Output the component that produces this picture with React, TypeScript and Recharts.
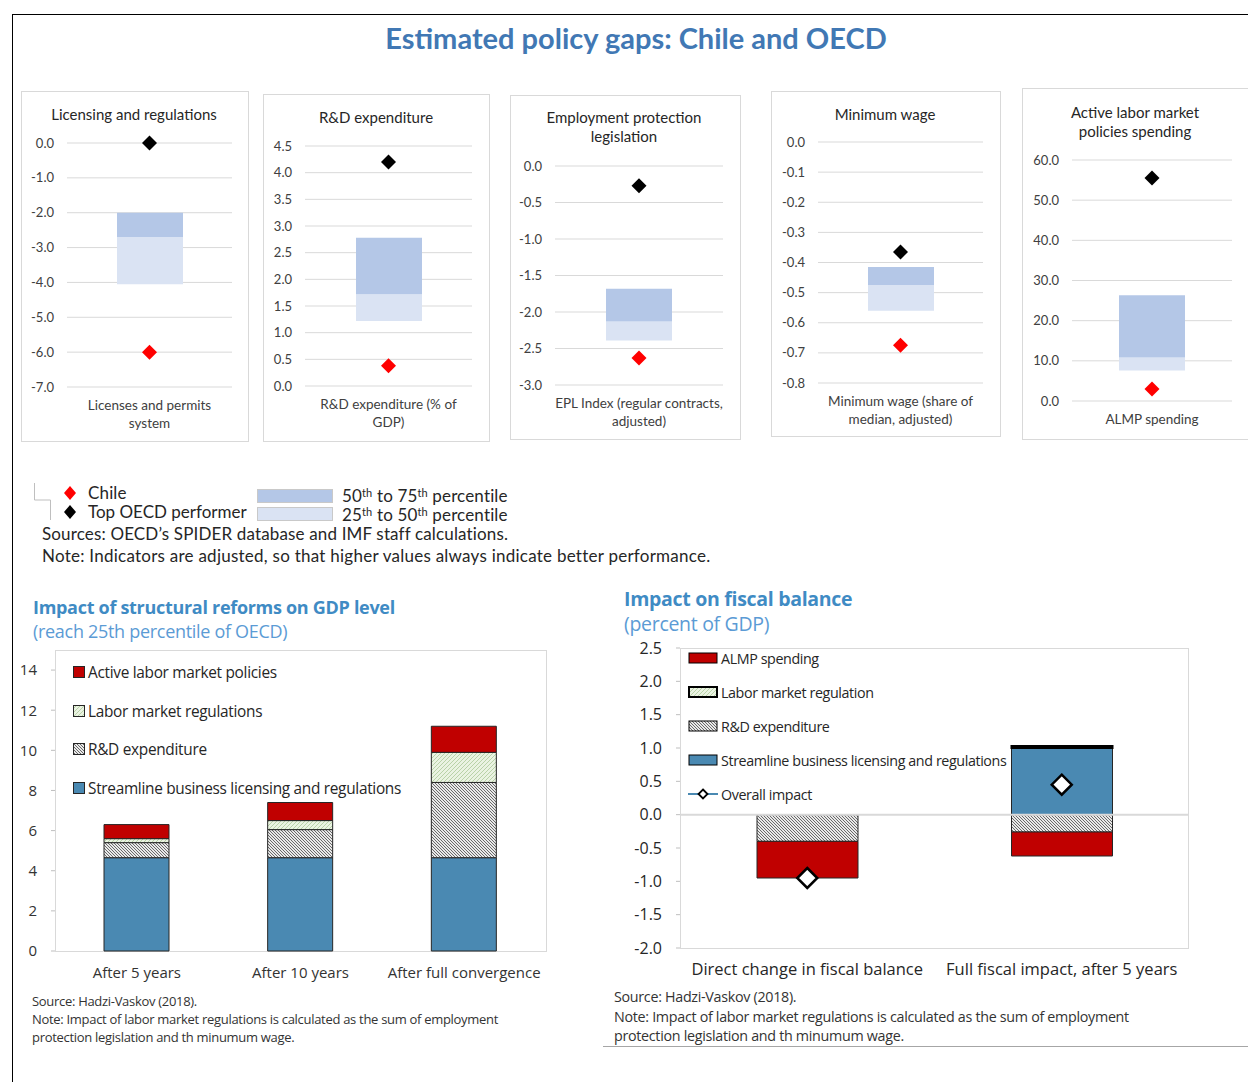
import React from "react";
import { ComposedChart, Bar, Line, XAxis, YAxis, CartesianGrid, ReferenceLine } from "recharts";

// ---------- top row: estimated policy gaps ----------
const panelTitles = [
  ["Licensing and regulations"],
  ["R&D expenditure"],
  ["Employment protection", "legislation"],
  ["Minimum wage"],
  ["Active labor market", "policies spending"],
];
const panelLabels = [
  ["Licenses and permits", "system"],
  ["R&D expenditure (% of", "GDP)"],
  ["EPL Index (regular contracts,", "adjusted)"],
  ["Minimum wage (share of", "median, adjusted)"],
  ["ALMP spending"],
];
const panelTicks = [
  [-7, -6, -5, -4, -3, -2, -1, 0],
  [0, 0.5, 1, 1.5, 2, 2.5, 3, 3.5, 4, 4.5],
  [-3, -2.5, -2, -1.5, -1, -0.5, 0],
  [-0.8, -0.7, -0.6, -0.5, -0.4, -0.3, -0.2, -0.1, 0],
  [0, 10, 20, 30, 40, 50, 60],
];
const pct25 = [-4.05, 1.22, -2.39, -0.56, 7.6];
const pct50 = [-2.7, 1.72, -2.13, -0.475, 10.8];
const pct75 = [-2.0, 2.78, -1.68, -0.415, 26.3];
const chileValues = [-6.0, 0.38, -2.63, -0.675, 3.0];
const topOecdValues = [0.0, 4.2, -0.27, -0.365, 55.5];

// ---------- bottom left: GDP level ----------
const gdpCategories = ["After 5 years", "After 10 years", "After full convergence"];
const gdpStreamline = [4.65, 4.65, 4.65];
const gdpRnd = [0.75, 1.4, 3.75];
const gdpLabor = [0.2, 0.45, 1.5];
const gdpAlmp = [0.7, 0.9, 1.3];
const gdpTicks = [0, 2, 4, 6, 8, 10, 12, 14];
const gdpLegend = [
  "Active labor market policies",
  "Labor market regulations",
  "R&D expenditure",
  "Streamline business licensing and regulations",
];

// ---------- bottom right: fiscal balance ----------
const fiscalCategories = ["Direct change in fiscal balance", "Full fiscal impact, after 5 years"];
const fiscalStreamline = [0, 1.0];
const fiscalLabor = [0, 0.03];
const fiscalRnd = [-0.4, -0.26];
const fiscalAlmp = [-0.55, -0.36];
const fiscalOverall = [-0.95, 0.45];
const fiscalTicks = [-2, -1.5, -1, -0.5, 0, 0.5, 1, 1.5, 2, 2.5];
const fiscalLegend = [
  "ALMP spending",
  "Labor market regulation",
  "R&D expenditure",
  "Streamline business licensing and regulations",
  "Overall impact",
];

// layout of the five small panels (page pixels)
const panelBoxes = [
  { x: 21, y: 91, w: 228, h: 351, left: 67, right: 232, top: 143, bottom: 387, titleY: 114, titleX: 134 },
  { x: 263, y: 94, w: 227, h: 348, left: 305, right: 472, top: 146, bottom: 386, titleY: 117, titleX: 376 },
  { x: 510, y: 95, w: 231, h: 345, left: 555, right: 723, top: 166, bottom: 385, titleY: 117, titleX: 624 },
  { x: 771, y: 91, w: 230, h: 346, left: 818, right: 983, top: 142, bottom: 383, titleY: 114, titleX: 885 },
  { x: 1022, y: 88, w: 240, h: 352, left: 1072, right: 1232, top: 160, bottom: 401, titleY: 112, titleX: 1135 },
];

const BLUE = "#4a89b2";
const RED = "#c00000";
const CAL = "Lato, 'Open Sans', sans-serif";
const SEG = "'Open Sans', 'Noto Sans', sans-serif";

const diamondDot = (fill: string, stroke: string, r: number, sw = 0) => (props: any) => {
  const { cx, cy, index } = props;
  if (cx == null || cy == null || isNaN(cy)) return <g key={index} />;
  return (
    <polygon
      key={index}
      points={`${cx},${cy - r} ${cx + r},${cy} ${cx},${cy + r} ${cx - r},${cy}`}
      fill={fill}
      stroke={stroke}
      strokeWidth={sw}
    />
  );
};

const panelTick = (lines: string[]) => (props: any) => {
  const { x, y } = props;
  return (
    <text x={x} y={y} textAnchor="middle" fontSize={13.5} fill="#404040" fontFamily={CAL}>
      {lines.map((l, k) => (
        <tspan key={k} x={x} y={y + 18 + k * 18} dy="0.35em">
          {l}
        </tspan>
      ))}
    </text>
  );
};

function GapPanel({ i }: { i: number }) {
  const b = panelBoxes[i];
  const ticks = panelTicks[i];
  const xAxisH = 40;
  const data = [
    {
      name: panelLabels[i].join(" "),
      low: [pct25[i], pct50[i]],
      high: [pct50[i], pct75[i]],
      chile: chileValues[i],
      top: topOecdValues[i],
    },
  ];
  return (
    <>
      <div
        style={{
          position: "absolute",
          left: b.x,
          top: b.y,
          width: b.w,
          height: b.h,
          border: "1px solid #d9d9d9",
          boxSizing: "border-box",
        }}
      />
      {panelTitles[i].map((t, k) => (
        <div
          key={k}
          style={{
            position: "absolute",
            left: b.titleX - 110,
            width: 220,
            top: b.titleY - 10 + k * 19,
            lineHeight: "20px",
            textAlign: "center",
            fontSize: 15,
            color: "#262626",
            fontFamily: CAL,
          }}
        >
          {t}
        </div>
      ))}
      <div style={{ position: "absolute", left: b.x, top: b.y }}>
        <ComposedChart
          width={b.w}
          height={b.h}
          data={data}
          margin={{ top: b.top - b.y, right: b.x + b.w - b.right, bottom: b.y + b.h - b.bottom - xAxisH, left: 0 }}
        >
          <CartesianGrid vertical={false} stroke="#d9d9d9" />
          <XAxis
            dataKey="name"
            height={xAxisH}
            axisLine={false}
            tickLine={false}
            tickSize={0}
            tickMargin={0}
            interval={0}
            tick={panelTick(panelLabels[i])}
          />
          <XAxis xAxisId="b" dataKey="name" hide />
          <YAxis
            domain={[ticks[0], ticks[ticks.length - 1]]}
            ticks={ticks}
            interval={0}
            width={b.left - b.x}
            axisLine={false}
            tickLine={false}
            tickSize={0}
            tickMargin={13}
            tickFormatter={(v: number) => v.toFixed(1)}
            tick={{ fontSize: 13, fill: "#404040", fontFamily: CAL }}
          />
          <Bar dataKey="low" fill="#dae3f3" barSize={66} isAnimationActive={false} />
          <Bar xAxisId="b" dataKey="high" fill="#b4c7e7" barSize={66} isAnimationActive={false} />
          <Line dataKey="top" stroke="none" dot={diamondDot("#000", "none", 7.5)} activeDot={false} isAnimationActive={false} />
          <Line dataKey="chile" stroke="none" dot={diamondDot("#ff0000", "none", 7.5)} activeDot={false} isAnimationActive={false} />
        </ComposedChart>
      </div>
    </>
  );
}

function Patterns() {
  return (
    <svg width={0} height={0} style={{ position: "absolute" }}>
      <defs>
        <pattern id="grayHatch" width={3} height={3} patternUnits="userSpaceOnUse">
          <rect width={3} height={3} fill="#e9e9e9" />
          <path d="M-1,-1 L4,4 M2,-1 L4,1 M-1,2 L1,4" stroke="#5a5a5a" strokeWidth={0.9} />
        </pattern>
        <pattern id="greenHatch" width={4} height={4} patternUnits="userSpaceOnUse">
          <rect width={4} height={4} fill="#eaf3e2" />
          <path d="M-1,5 L5,-1 M-1,1 L1,-1 M3,5 L5,3" stroke="#b9d2a8" strokeWidth={1} />
        </pattern>
      </defs>
    </svg>
  );
}

function GdpChart() {
  const data = gdpCategories.map((c, i) => ({
    name: c,
    streamline: gdpStreamline[i],
    rnd: gdpRnd[i],
    labor: gdpLabor[i],
    almp: gdpAlmp[i],
  }));
  const legendFills = [RED, "url(#greenHatch)", "url(#grayHatch)", BLUE];
  const legendY = [672, 711, 749, 788];
  return (
    <>
      <div style={{ position: "absolute", left: 33, top: 596, lineHeight: "22px", fontFamily: SEG, fontWeight: 700, fontSize: 18, color: "#3f8bc4", letterSpacing: -0.3 }}>
        Impact of structural reforms on GDP level
      </div>
      <div style={{ position: "absolute", left: 33, top: 620, lineHeight: "22px", fontFamily: SEG, fontSize: 18, color: "#5b9bd5", letterSpacing: -0.3 }}>
        (reach 25th percentile of OECD)
      </div>
      <div
        style={{
          position: "absolute",
          left: 55,
          top: 650,
          width: 492,
          height: 302,
          border: "1px solid #d9d9d9",
          boxSizing: "border-box",
        }}
      />
      <div style={{ position: "absolute", left: 10, top: 640 }}>
        <ComposedChart width={550} height={360} data={data} margin={{ top: 10, right: 14, bottom: 19, left: 0 }}>
          <XAxis
            dataKey="name"
            height={30}
            axisLine={false}
            tickLine={false}
            tickSize={0}
            tickMargin={16}
            interval={0}
            tick={{ fontSize: 15, fill: "#333", fontFamily: SEG }}
          />
          <YAxis
            domain={[0, 15]}
            ticks={gdpTicks}
            interval={0}
            width={45}
            axisLine={false}
            tickLine={{ stroke: "#bfbfbf" }}
            tickSize={4}
            tickMargin={14}
            tick={{ fontSize: 15, fill: "#333", fontFamily: SEG }}
          />
          <Bar stackId="s" dataKey="streamline" fill={BLUE} stroke="#262626" barSize={65} isAnimationActive={false} />
          <Bar stackId="s" dataKey="rnd" fill="url(#grayHatch)" stroke="#262626" barSize={65} isAnimationActive={false} />
          <Bar stackId="s" dataKey="labor" fill="url(#greenHatch)" stroke="#262626" barSize={65} isAnimationActive={false} />
          <Bar stackId="s" dataKey="almp" fill={RED} stroke="#262626" barSize={65} isAnimationActive={false} />
        </ComposedChart>
      </div>
      {gdpLegend.map((t, k) => (
        <div key={k} style={{ position: "absolute", left: 73, top: legendY[k] - 10, height: 20, display: "flex", alignItems: "center", fontFamily: SEG, fontSize: 15.4, color: "#262626", letterSpacing: -0.3 }}>
          <svg width={12} height={12} style={{ marginRight: 3 }}>
            <rect x={0.5} y={0.5} width={11} height={11} fill={legendFills[k]} stroke="#262626" />
          </svg>
          {t}
        </div>
      ))}
      <div style={{ position: "absolute", left: 32, top: 992, fontFamily: SEG, fontSize: 13, color: "#333", lineHeight: "18px", letterSpacing: -0.3 }}>
        Source: Hadzi-Vaskov (2018).
        <br />
        Note: Impact of labor market regulations is calculated as the sum of employment
        <br />
        protection legislation and th minumum wage.
      </div>
    </>
  );
}

function FiscalChart() {
  const data = fiscalCategories.map((c, i) => ({
    name: c,
    streamline: fiscalStreamline[i],
    labor: fiscalLabor[i],
    rnd: fiscalRnd[i],
    almp: fiscalAlmp[i],
    overall: fiscalOverall[i],
  }));
  const legendY = [658, 692, 726, 760, 794];
  const legendFills = [RED, "url(#greenHatch)", "url(#grayHatch)", BLUE];
  return (
    <>
      <div style={{ position: "absolute", left: 624, top: 589, lineHeight: "20px", fontFamily: SEG, fontWeight: 700, fontSize: 19.5, color: "#3f8bc4", letterSpacing: -0.3 }}>
        Impact on fiscal balance
      </div>
      <div style={{ position: "absolute", left: 624, top: 614, lineHeight: "20px", fontFamily: SEG, fontSize: 19.5, color: "#5b9bd5", letterSpacing: -0.3 }}>
        (percent of GDP)
      </div>
      <div
        style={{
          position: "absolute",
          left: 680,
          top: 648,
          width: 509,
          height: 301,
          border: "1px solid #d9d9d9",
          boxSizing: "border-box",
        }}
      />
      <div style={{ position: "absolute", left: 610, top: 638 }}>
        <ComposedChart width={590} height={360} data={data} stackOffset="sign" margin={{ top: 10, right: 11, bottom: 20, left: 0 }}>
          <XAxis
            dataKey="name"
            height={30}
            axisLine={false}
            tickLine={false}
            tickSize={0}
            tickMargin={15}
            interval={0}
            tick={{ fontSize: 16.5, fill: "#262626", fontFamily: SEG }}
          />
          <YAxis
            domain={[-2, 2.5]}
            ticks={fiscalTicks}
            interval={0}
            width={70}
            axisLine={false}
            tickLine={{ stroke: "#bfbfbf" }}
            tickSize={4}
            tickMargin={14}
            tickFormatter={(v: number) => v.toFixed(1)}
            tick={{ fontSize: 16, fill: "#262626", fontFamily: SEG }}
          />
          <ReferenceLine y={0} stroke="#d9d9d9" strokeWidth={2} />
          <Bar stackId="s" dataKey="streamline" fill={BLUE} stroke="#262626" barSize={101} isAnimationActive={false} />
          <Bar stackId="s" dataKey="labor" fill="url(#greenHatch)" stroke="#000" strokeWidth={2} barSize={101} isAnimationActive={false} />
          <Bar stackId="s" dataKey="rnd" fill="url(#grayHatch)" stroke="#262626" barSize={101} isAnimationActive={false} />
          <Bar stackId="s" dataKey="almp" fill={RED} stroke="#262626" barSize={101} isAnimationActive={false} />
          <Line dataKey="overall" stroke="none" dot={diamondDot("#fff", "#000", 10, 2.5)} activeDot={false} isAnimationActive={false} />
        </ComposedChart>
      </div>
      {fiscalLegend.map((t, k) => (
        <div key={k} style={{ position: "absolute", left: 688, top: legendY[k] - 10, height: 20, display: "flex", alignItems: "center", fontFamily: SEG, fontSize: 14.3, color: "#262626", letterSpacing: -0.4 }}>
          <svg width={31} height={12} style={{ marginRight: 2 }}>
            {k < 4 ? (
              <rect x={1} y={1} width={28} height={10} fill={legendFills[k]} stroke="#000" strokeWidth={k === 1 ? 2 : 1} />
            ) : (
              <>
                <line x1={0} y1={6} x2={30} y2={6} stroke={BLUE} strokeWidth={2} />
                <polygon points="15,1.5 19.5,6 15,10.5 10.5,6" fill="#fff" stroke="#000" strokeWidth={1.8} />
              </>
            )}
          </svg>
          {t}
        </div>
      ))}
      <div style={{ position: "absolute", left: 614, top: 987, fontFamily: SEG, fontSize: 14.3, color: "#333", lineHeight: "19.5px", letterSpacing: -0.3 }}>
        Source: Hadzi-Vaskov (2018).
        <br />
        Note: Impact of labor market regulations is calculated as the sum of employment
        <br />
        protection legislation and th minumum wage.
      </div>
      <div style={{ position: "absolute", left: 603, top: 1046, width: 645, height: 1, background: "#a6a6a6" }} />
    </>
  );
}

function TopLegend() {
  const txt: React.CSSProperties = { position: "absolute", fontFamily: CAL, fontSize: 17, color: "#262626", lineHeight: "20px", letterSpacing: 0.15, whiteSpace: "nowrap" };
  const sup: React.CSSProperties = { fontSize: 11, verticalAlign: "top", lineHeight: "14px" };
  return (
    <>
      <svg width={60} height={50} style={{ position: "absolute", left: 30, top: 480 }}>
        <polyline points="4.5,3 4.5,20 20.5,20 20.5,40" fill="none" stroke="#bfbfbf" />
        <polygon points="40,6 46,13 40,20 34,13" fill="#ff0000" />
        <polygon points="40,25 46,32 40,39 34,32" fill="#000" />
      </svg>
      <div style={{ ...txt, left: 88, top: 483 }}>Chile</div>
      <div style={{ ...txt, left: 88, top: 502, letterSpacing: 0 }}>Top OECD performer</div>
      <div style={{ position: "absolute", left: 257, top: 489, width: 76, height: 14, background: "#b4c7e7", border: "1px solid #c9c9c9", boxSizing: "border-box" }} />
      <div style={{ position: "absolute", left: 257, top: 507, width: 76, height: 14, background: "#dae3f3", border: "1px solid #c9c9c9", boxSizing: "border-box" }} />
      <div style={{ ...txt, left: 342, top: 486 }}>
        50<span style={sup}>th</span> to 75<span style={sup}>th</span> percentile
      </div>
      <div style={{ ...txt, left: 342, top: 505 }}>
        25<span style={sup}>th</span> to 50<span style={sup}>th</span> percentile
      </div>
      <div style={{ ...txt, left: 42, top: 524 }}>Sources: OECD’s SPIDER database and IMF staff calculations.</div>
      <div style={{ ...txt, left: 42, top: 546, letterSpacing: 0.25 }}>Note: Indicators are adjusted, so that higher values always indicate better performance.</div>
    </>
  );
}

export default function App() {
  return (
    <div style={{ position: "absolute", left: 0, top: 0, width: 1248, height: 1082, overflow: "hidden", background: "#fff" }}>
      <Patterns />
      <div style={{ position: "absolute", left: 12, top: 14, width: 1240, height: 1080, borderLeft: "1.5px solid #000", borderTop: "1.5px solid #000" }} />
      <div style={{ position: "absolute", left: 0, width: 1272, top: 19, textAlign: "center", fontFamily: CAL, fontWeight: 700, fontSize: 29, color: "#4178b4", lineHeight: "38px" }}>
        Estimated policy gaps: Chile and OECD
      </div>
      {panelBoxes.map((_, i) => (
        <GapPanel key={i} i={i} />
      ))}
      <TopLegend />
      <GdpChart />
      <FiscalChart />
    </div>
  );
}
